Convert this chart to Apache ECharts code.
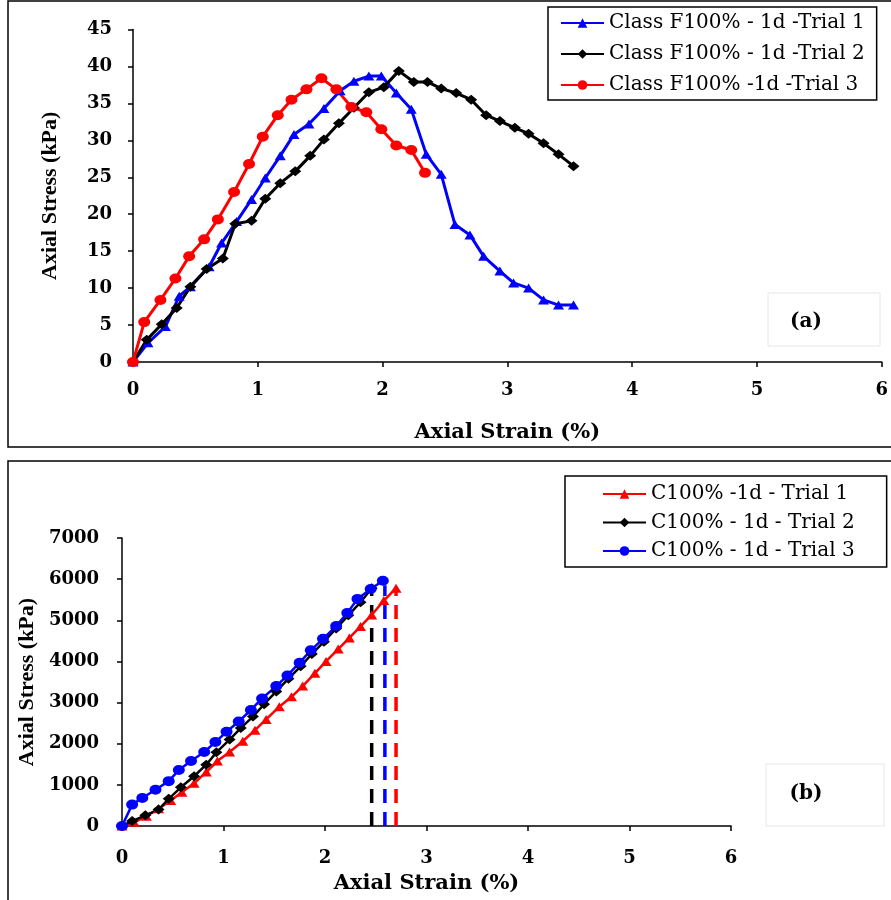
<!DOCTYPE html>
<html>
<head>
<meta charset="utf-8">
<script src="https://cdn.jsdelivr.net/npm/echarts@6/dist/echarts.min.js"></script>
<style>html,body{margin:0;padding:0;background:#fff;}#c{width:891px;height:900px;}</style>
</head>
<body>
<div id="c"></div>
<script>
// ---------- Panel (a): Class F100% - 1d ----------
const strainF1 = [0,0.12,0.26,0.37,0.46,0.61,0.71,0.83,0.95,1.06,1.18,1.29,1.41,1.53,1.66,1.77,1.89,1.99,2.11,2.23,2.35,2.47,2.58,2.70,2.81,2.94,3.05,3.17,3.29,3.41,3.53];
const stressF1 = [0,2.6,4.8,8.9,10.2,12.9,16.1,19.0,22.0,24.9,27.9,30.8,32.2,34.3,36.7,38.0,38.7,38.7,36.4,34.2,28.1,25.4,18.6,17.2,14.3,12.3,10.7,10.0,8.4,7.7,7.7];
const strainF2 = [0,0.11,0.23,0.35,0.46,0.59,0.72,0.82,0.95,1.06,1.18,1.30,1.42,1.53,1.65,1.77,1.89,2.01,2.13,2.25,2.36,2.47,2.59,2.71,2.83,2.94,3.06,3.17,3.29,3.41,3.53];
const stressF2 = [0,3.0,5.1,7.3,10.2,12.6,14.0,18.7,19.1,22.1,24.2,25.8,27.9,30.1,32.3,34.4,36.5,37.2,39.4,37.9,37.9,37.0,36.4,35.5,33.4,32.6,31.7,30.9,29.6,28.1,26.5];
const strainF3 = [0,0.09,0.22,0.34,0.45,0.57,0.68,0.81,0.93,1.04,1.16,1.27,1.39,1.51,1.63,1.75,1.87,1.99,2.11,2.23,2.34];
const stressF3 = [0,5.4,8.4,11.3,14.3,16.6,19.3,23.0,26.8,30.5,33.4,35.5,36.9,38.4,36.9,34.5,33.8,31.5,29.3,28.7,25.6];
const namesA = ['Class F100% - 1d -Trial 1','Class F100% - 1d -Trial 2','Class F100% -1d -Trial 3'];

// ---------- Panel (b): C100% - 1d ----------
const strainC1 = [0,0.12,0.24,0.36,0.48,0.59,0.71,0.83,0.94,1.06,1.19,1.31,1.42,1.55,1.67,1.78,1.90,2.01,2.13,2.24,2.35,2.46,2.58,2.70];
const stressC1 = [0,90,240,420,620,820,1040,1310,1580,1800,2060,2330,2590,2900,3140,3400,3710,4000,4300,4570,4850,5130,5480,5780];
const strainC2 = [0,0.10,0.23,0.36,0.46,0.58,0.71,0.83,0.93,1.06,1.17,1.29,1.40,1.52,1.64,1.76,1.87,1.99,2.11,2.23,2.35,2.46];
const stressC2 = [0,120,260,400,660,940,1210,1490,1790,2100,2380,2660,2960,3270,3580,3880,4180,4480,4800,5120,5440,5780];
const strainC3 = [0,0.10,0.20,0.33,0.46,0.56,0.68,0.81,0.92,1.03,1.15,1.27,1.38,1.52,1.63,1.75,1.86,1.98,2.11,2.22,2.32,2.45,2.57];
const stressC3 = [0,520,680,880,1090,1360,1580,1800,2040,2290,2540,2820,3100,3400,3660,3970,4270,4550,4860,5180,5520,5760,5960];
const failureStrain = [2.70, 2.46, 2.59];   // dashed failure lines: Trial 1, 2, 3
const failureStress = [5700, 5700, 5850];
const namesB = ['C100% -1d - Trial 1','C100% - 1d - Trial 2','C100% - 1d - Trial 3'];

const xTicksMax = 6;
const yMaxA = 45, yStepA = 5;
const yMaxB = 7000, yStepB = 1000;

function zip(xs, ys){ return xs.map((x,i)=>[x, ys[i]]); }

const tickFont = {fontFamily:'DejaVu Serif', fontWeight:'bold', fontSize:18, color:'#000', formatter:(v)=>String(v)};
const xNameFont = {fontFamily:'DejaVu Serif', fontWeight:'bold', fontSize:21, color:'#000'};
const yNameFont = {fontFamily:'Liberation Serif', fontWeight:'bold', fontSize:22, color:'#000'};
const axLine = {show:true, onZero:false, lineStyle:{color:'#000', width:1.5}};
const axTick = {show:true, inside:false, length:5, lineStyle:{color:'#000', width:1.5}};

function lineSeries(name, xi, data, color, symbol, size, width){
  return {name, type:'line', xAxisIndex:xi, yAxisIndex:xi, data, symbol, symbolSize:size,
    showAllSymbol:true, lineStyle:{color, width}, itemStyle:{color}, z:3};
}
function dashSeries(xi, x, y, color){
  return {type:'line', xAxisIndex:xi, yAxisIndex:xi, data:[[x,0],[x,y]], symbol:'none',
    lineStyle:{color, width:3.5, type:[14,9]}, z:2, silent:true};
}

const chart = echarts.init(document.getElementById('c'), null, {renderer:'canvas'});
chart.setOption({
  animation:false,
  backgroundColor:'#fff',
  grid:[
    {left:133, top:29.5, width:751, height:332.5},
    {left:122, top:538, width:609, height:288}
  ],
  xAxis:[
    {gridIndex:0, type:'value', min:0, max:xTicksMax, interval:1, axisLine:axLine, axisTick:axTick,
     splitLine:{show:false}, axisLabel:Object.assign({margin:19}, tickFont),
     name:'Axial Strain (%)', nameLocation:'middle', nameGap:60, nameTextStyle:xNameFont},
    {gridIndex:1, type:'value', min:0, max:xTicksMax, interval:1, axisLine:axLine, axisTick:axTick,
     splitLine:{show:false}, axisLabel:Object.assign({margin:23}, tickFont),
     name:'Axial Strain (%)', nameLocation:'middle', nameGap:47, nameTextStyle:xNameFont}
  ],
  yAxis:[
    {gridIndex:0, type:'value', min:0, max:yMaxA, interval:yStepA, axisLine:axLine, axisTick:axTick,
     splitLine:{show:false}, axisLabel:Object.assign({margin:21}, tickFont),
     name:'Axial Stress (kPa)', nameLocation:'middle', nameGap:72, nameTextStyle:yNameFont},
    {gridIndex:1, type:'value', min:0, max:yMaxB, interval:yStepB, axisLine:axLine, axisTick:axTick,
     splitLine:{show:false}, axisLabel:Object.assign({margin:23}, tickFont),
     name:'Axial Stress (kPa)', nameLocation:'middle', nameGap:71, nameTextStyle:yNameFont}
  ],
  legend:[
    {data:namesA, orient:'vertical', left:548, top:7, itemWidth:43, itemHeight:12, itemGap:11,
     padding:[6,12,5,12], borderColor:'#000', borderWidth:1.5, backgroundColor:'#fff',
     textStyle:{fontFamily:'DejaVu Serif', fontSize:20, color:'#000'}},
    {data:namesB, orient:'vertical', left:565, top:476, itemWidth:43, itemHeight:12, itemGap:8.5,
     padding:[8,32,6,37], borderColor:'#000', borderWidth:1.5, backgroundColor:'#fff',
     textStyle:{fontFamily:'DejaVu Serif', fontSize:20, color:'#000'}}
  ],
  series:[
    lineSeries(namesA[0], 0, zip(strainF1, stressF1), '#0000ff', 'triangle', [11,9], 3),
    lineSeries(namesA[1], 0, zip(strainF2, stressF2), '#000000', 'diamond', [12,10], 3),
    lineSeries(namesA[2], 0, zip(strainF3, stressF3), '#ff0000', 'circle', [12,10], 3),
    dashSeries(1, failureStrain[1], failureStress[1], '#000000'),
    dashSeries(1, failureStrain[2], failureStress[2], '#0000ff'),
    dashSeries(1, failureStrain[0], failureStress[0], '#ff0000'),
    lineSeries(namesB[0], 1, zip(strainC1, stressC1), '#ff0000', 'triangle', [11,9], 2.5),
    lineSeries(namesB[1], 1, zip(strainC2, stressC2), '#000000', 'diamond', [12,10], 2.5),
    lineSeries(namesB[2], 1, zip(strainC3, stressC3), '#0000ff', 'circle', [12,10], 2.5)
  ],
  graphic:[
    {type:'rect', silent:true, z:-10, shape:{x:8, y:1, width:900, height:446}, style:{fill:'none', stroke:'#000', lineWidth:1.5}},
    {type:'rect', silent:true, z:-10, shape:{x:8, y:461, width:900, height:460}, style:{fill:'none', stroke:'#000', lineWidth:1.5}},
    {type:'rect', silent:true, shape:{x:768, y:293, width:112, height:53}, style:{fill:'#fff', stroke:'#e6e6e6', lineWidth:1}},
    {type:'text', silent:true, style:{text:'(a)', x:806, y:322, textAlign:'center', textVerticalAlign:'middle', font:'bold 20px "DejaVu Serif"', fill:'#000'}},
    {type:'rect', silent:true, shape:{x:766, y:764, width:118, height:62}, style:{fill:'#fff', stroke:'#e6e6e6', lineWidth:1}},
    {type:'text', silent:true, style:{text:'(b)', x:806, y:794, textAlign:'center', textVerticalAlign:'middle', font:'bold 20px "DejaVu Serif"', fill:'#000'}}
  ]
});
</script>
</body>
</html>
